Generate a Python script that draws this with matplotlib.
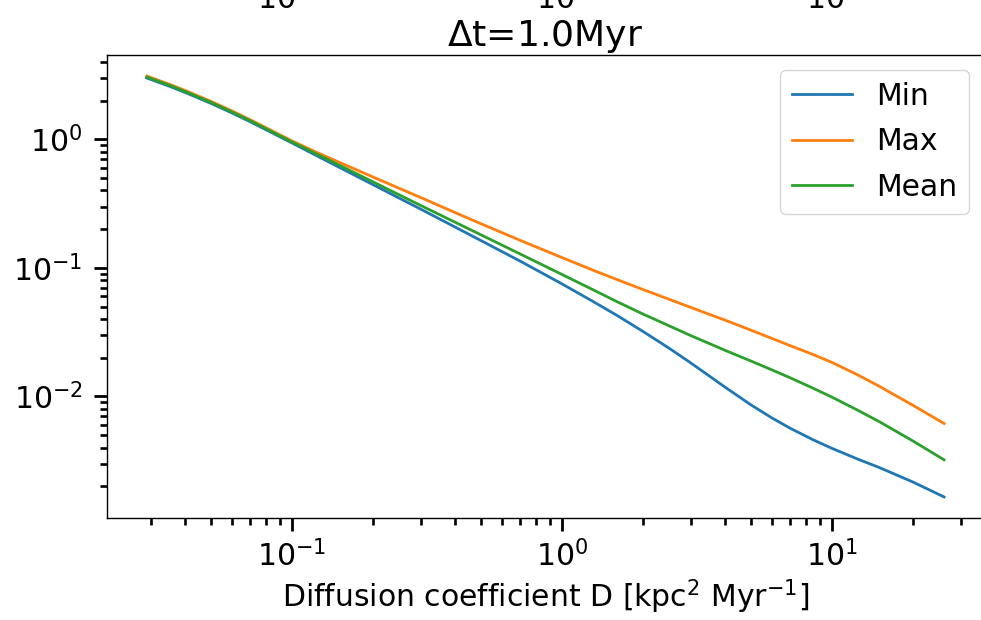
import matplotlib
matplotlib.use("Agg")
import matplotlib.pyplot as plt

# diffusion coefficient D [kpc^2 / Myr]
D = [0.029, 0.035, 0.04, 0.05, 0.06, 0.07, 0.085, 0.1, 0.12, 0.15, 0.2,
     0.25, 0.3, 0.4, 0.5, 0.7, 1.0, 1.3, 1.6, 2.0, 2.5, 3.0,
     3.5, 4.0, 5.0, 6.0, 7.0, 8.5, 10.0, 12.5, 15.0, 20.0, 26.0]

v_min = [3.00, 2.595, 2.325, 1.908, 1.602, 1.370, 1.115, 0.937, 0.769, 0.604, 0.443,
         0.348, 0.286, 0.2087, 0.1634, 0.1128, 0.0750, 0.0549, 0.0426, 0.0319, 0.0236, 0.0182,
         0.01448, 0.01187, 0.00861, 0.00678, 0.00565, 0.00460, 0.00394, 0.00324, 0.00279, 0.00215, 0.00165]
v_max = [3.106, 2.690, 2.410, 1.978, 1.661, 1.420, 1.156, 0.972, 0.813, 0.661, 0.508,
         0.415, 0.352, 0.2704, 0.2207, 0.1637, 0.1202, 0.0961, 0.0810, 0.0677, 0.0568, 0.0492,
         0.0436, 0.0393, 0.0328, 0.0282, 0.0248, 0.0212, 0.01836, 0.01464, 0.01195, 0.00849, 0.00615]
v_mean = [3.05, 2.642, 2.367, 1.942, 1.631, 1.395, 1.135, 0.954, 0.790, 0.628, 0.4656,
          0.369, 0.3056, 0.2275, 0.1811, 0.1282, 0.0888, 0.0677, 0.0545, 0.0436, 0.0353, 0.0297,
          0.02585, 0.0229, 0.01887, 0.01605, 0.01395, 0.01159, 0.00986, 0.00777, 0.00634, 0.00448, 0.00321]

series = [("Min", v_min), ("Max", v_max), ("Mean", v_mean)]
title = r"$\Delta$t=1.0Myr"
xlabel = r"Diffusion coefficient D [kpc$^2$ Myr$^{-1}$]"

plt.rcParams["font.size"] = 21.5
plt.rcParams["mathtext.default"] = "regular"

fig = plt.figure(figsize=(9.81, 6.2), dpi=100)
ax = fig.add_axes([0.109, 0.1645, 0.894, 0.7468])

for name, vals in series:
    ax.plot(D, vals, lw=2.0, label=name)

ax.set_xscale("log")
ax.set_yscale("log")
ax.set_title(title, fontsize=26, pad=6)
ax.set_xlabel(xlabel, fontsize=21.5)

ax.tick_params(which="major", length=9.5, width=2.0, pad=6)
ax.tick_params(which="minor", length=5, width=1.9)
ax.tick_params(axis="y", which="major", pad=8)
for s in ax.spines.values():
    s.set_linewidth(1.0)

ax.legend(loc="upper right", fontsize=21.5, labelspacing=0.55)

# tick labels of the panel above (cut off by the figure edge)
ax_up = fig.add_axes([0.109, 1.050, 0.894, 0.3], sharex=ax)
ax_up.set_yscale("log")
for s in ax_up.spines.values():
    s.set_visible(False)
ax_up.patch.set_visible(False)
ax_up.tick_params(which="both", length=0, left=False, labelleft=False)
ax_up.tick_params(axis="x", which="major", labelsize=21.5, pad=10)

fig.savefig("out.png", dpi=100)
